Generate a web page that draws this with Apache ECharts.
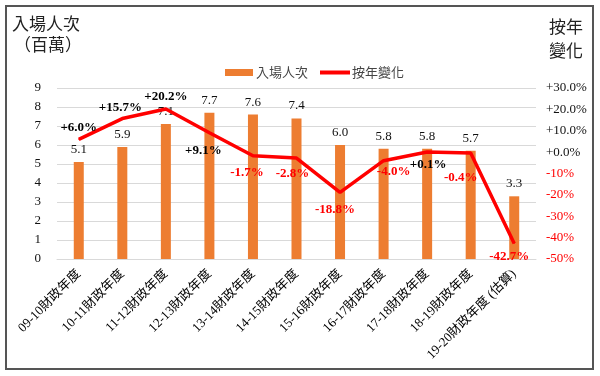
<!DOCTYPE html>
<html>
<head>
<meta charset="utf-8">
<script src="https://cdn.jsdelivr.net/npm/echarts@6/dist/echarts.min.js"></script>
<style>
  html, body { margin: 0; padding: 0; background: #fff; }
  #chart { width: 600px; height: 376px; }
</style>
</head>
<body>
<div id="chart"></div>
<script>
// 財政年度
var years = ['09-10財政年度', '10-11財政年度', '11-12財政年度', '12-13財政年度', '13-14財政年度',
  '14-15財政年度', '15-16財政年度', '16-17財政年度', '17-18財政年度', '18-19財政年度', '19-20財政年度 (估算)'];
// 入場人次（百萬）
var visitors = [5.1, 5.9, 7.1, 7.7, 7.6, 7.4, 6.0, 5.8, 5.8, 5.7, 3.3];
// 按年變化 (%)
var yoyChange = [6.0, 15.7, 20.2, 9.1, -1.7, -2.8, -18.8, -4.0, 0.1, -0.4, -42.7];
var leftTicks = [0, 9, 1];
var rightTicks = [-50, 30, 10];

var serif = "'Liberation Serif', 'Times New Roman', 'Noto Sans CJK TC', serif";
var cjk = "'Noto Sans CJK TC', sans-serif";

// 標籤位置 (position, [dx, dy])
var labelPos = [
  ['top', [0, 0]], ['top', [-2, 1]], ['top', [0, 0]], ['bottom', [-6, 6]],
  ['bottom', [-6, 5]], ['bottom', [-4, 4]], ['bottom', [-5, 5]], ['bottom', [10, -1]],
  ['bottom', [1, 1]], ['bottom', [-10, 13]], ['bottom', [-5, 1]]
];

function pct(v) {
  return (v >= 0 ? '+' : '') + v.toFixed(1) + '%';
}

var lineData = yoyChange.map(function (v, i) {
  return {
    value: v,
    label: {
      position: labelPos[i][0],
      offset: labelPos[i][1],
      color: v >= 0 ? '#000' : '#ff0000'
    }
  };
});

var myChart = echarts.init(document.getElementById('chart'));
myChart.setOption({
  backgroundColor: '#fff',
  animation: false,
  graphic: [
    {
      type: 'rect',
      shape: { x: 6, y: 6, width: 587, height: 363 },
      style: { fill: 'none', stroke: '#555', lineWidth: 2 }
    },
    {
      type: 'text', left: 12, top: 15,
      style: { text: '入場人次', font: '17px ' + cjk, fill: '#222' }
    },
    {
      type: 'text', left: 14, top: 36,
      style: { text: '（百萬）', font: '17px ' + cjk, fill: '#222' }
    },
    {
      type: 'text', left: 549, top: 15,
      style: { text: '按年\n變化', font: '17px ' + cjk, fill: '#222', lineHeight: 24 }
    }
  ],
  legend: [
    {
      left: 220,
      top: 61,
      itemWidth: 28,
      itemHeight: 7,
      textStyle: { fontFamily: cjk, fontSize: 13, color: '#444', padding: [0, 0, 0, -2] },
      data: [{ name: '入場人次', icon: 'rect' }]
    },
    {
      left: 315,
      top: 61,
      itemWidth: 30,
      itemHeight: 4,
      textStyle: { fontFamily: cjk, fontSize: 13, color: '#444', padding: [0, 0, 0, -3] },
      data: [{ name: '按年變化', icon: 'rect' }]
    }
  ],
  grid: { left: 57, right: 64, top: 88, bottom: 117 },
  xAxis: {
    type: 'category',
    data: years,
    axisTick: { show: false },
    axisLine: { lineStyle: { color: '#d9d9d9' } },
    axisLabel: {
      rotate: 45,
      interval: 0,
      margin: 13,
      fontFamily: serif,
      fontSize: 13,
      color: '#000'
    }
  },
  yAxis: [
    {
      type: 'value',
      min: leftTicks[0], max: leftTicks[1], interval: leftTicks[2],
      axisLine: { show: false },
      axisTick: { show: false },
      axisLabel: { fontFamily: serif, fontSize: 13, color: '#111', margin: 16 },
      splitLine: { lineStyle: { color: '#d9d9d9' } }
    },
    {
      type: 'value',
      min: rightTicks[0], max: rightTicks[1], interval: rightTicks[2],
      axisLine: { show: false },
      axisTick: { show: false },
      splitLine: { show: false },
      axisLabel: {
        fontFamily: serif,
        fontSize: 13,
        margin: 10,
        formatter: function (v) {
          return v >= 0 ? '+' + v.toFixed(1) + '%' : v + '%';
        },
        color: function (v) {
          return Number(v) >= 0 ? '#111' : '#ff0000';
        }
      }
    }
  ],
  series: [
    {
      name: '入場人次',
      type: 'bar',
      data: visitors,
      barWidth: 10,
      itemStyle: { color: '#ed7d31' },
      label: {
        show: true,
        position: 'top',
        distance: 6,
        fontFamily: serif,
        fontSize: 13,
        color: '#111',
        formatter: function (p) { return p.value.toFixed(1); }
      }
    },
    {
      name: '按年變化',
      type: 'line',
      yAxisIndex: 1,
      data: lineData,
      symbol: 'circle',
      symbolSize: 1,
      showSymbol: true,
      lineStyle: { color: '#ff0000', width: 3.5 },
      itemStyle: { color: '#ff0000' },
      z: 5,
      label: {
        show: true,
        fontFamily: serif,
        fontSize: 13,
        fontWeight: 'bold',
        formatter: function (p) { return pct(p.value); }
      }
    }
  ]
});
</script>
</body>
</html>
